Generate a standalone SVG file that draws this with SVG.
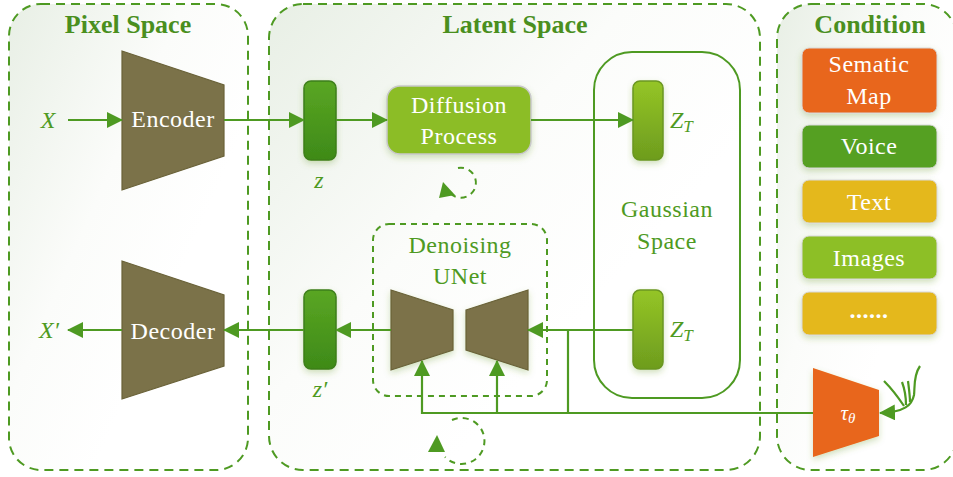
<svg xmlns="http://www.w3.org/2000/svg" width="953" height="477" viewBox="0 0 953 477">
<defs>
  <linearGradient id="panelBg" x1="0" y1="0" x2="0.7" y2="0.6">
    <stop offset="0" stop-color="#e8efe5"/>
    <stop offset="0.6" stop-color="#fbfcfa"/>
    <stop offset="1" stop-color="#ffffff"/>
  </linearGradient>
  <linearGradient id="zDark" x1="0" y1="0" x2="0" y2="1">
    <stop offset="0" stop-color="#5aa623"/>
    <stop offset="1" stop-color="#3e8a18"/>
  </linearGradient>
  <linearGradient id="zLight" x1="0" y1="0" x2="0" y2="1">
    <stop offset="0" stop-color="#95c526"/>
    <stop offset="1" stop-color="#6d9c1e"/>
  </linearGradient>
  <filter id="sh" x="-20%" y="-20%" width="140%" height="150%">
    <feDropShadow dx="0" dy="3" stdDeviation="3" flood-color="#6a9a30" flood-opacity="0.3"/>
  </filter>
  <marker id="ah" viewBox="0 0 16 16" refX="15" refY="8" markerWidth="16" markerHeight="16" markerUnits="userSpaceOnUse" orient="auto">
    <path d="M0,0 L16,8 L0,16 z" fill="#4e9a22"/>
  </marker>
  <style>
    .panel{fill:url(#panelBg);stroke:#4e9a22;stroke-width:2;stroke-dasharray:9 6}
    .title{font-family:"Liberation Serif","Times New Roman",serif;font-weight:bold;font-size:26px;fill:#4a8f1e;text-anchor:middle}
    .trap{fill:#7b7249;stroke:#6a6238;stroke-width:1.2}
    .wt{font-family:"Liberation Serif","Times New Roman",serif;font-size:24px;fill:#ffffff;text-anchor:middle;letter-spacing:0.5px}
    .gt{font-family:"Liberation Serif","Times New Roman",serif;font-size:24px;fill:#4e9a22;text-anchor:middle;letter-spacing:0.5px}
    .it{font-family:"Liberation Serif","Times New Roman",serif;font-style:italic;font-size:24px;fill:#4e9a22;text-anchor:middle}
    .ln{fill:none;stroke:#4e9a22;stroke-width:2.2}
    .dsh{fill:none;stroke:#4e9a22;stroke-width:2;stroke-dasharray:6 5}
    .cbox{stroke:#d9d9d9;stroke-width:1}
  </style>
</defs>

<g id="panel-pixel">
  <rect class="panel" x="9" y="4" width="239" height="466" rx="32"/>
  <text class="title" x="128" y="33">Pixel Space</text>
</g>
<g id="panel-latent">
  <rect class="panel" x="269" y="4" width="491" height="466" rx="34"/>
  <text class="title" x="515" y="33">Latent Space</text>
</g>
<g id="panel-condition">
  <rect class="panel" x="777" y="4" width="180" height="466" rx="34"/>
  <text class="title" x="870" y="33">Condition</text>
</g>

<g id="gaussian-space">
  <rect x="594" y="52" width="146" height="346" rx="38" fill="none" stroke="#4e9a22" stroke-width="2"/>
  <text class="gt" x="667" y="217">Gaussian</text>
  <text class="gt" x="667" y="249">Space</text>
</g>

<g id="denoising-unet">
  <rect x="373" y="224" width="174" height="172" rx="16" class="dsh"/>
  <text class="gt" x="460" y="253">Denoising</text>
  <text class="gt" x="460" y="284">UNet</text>
  <polygon class="trap" filter="url(#sh)" points="391,290 453,310 453,350 391,370"/>
  <polygon class="trap" filter="url(#sh)" points="466,310 528,290 528,370 466,350"/>
</g>

<g id="X">
  <text class="it" x="48" y="128">X</text>
</g>
<g id="X-prime">
  <text class="it" x="49" y="338">X′</text>
</g>

<g id="encoder">
  <polygon class="trap" points="122,51 224,85 224,156 122,190"/>
  <text class="wt" x="173" y="127">Encoder</text>
</g>
<g id="decoder">
  <polygon class="trap" points="122,261 224,295 224,366 122,399"/>
  <text class="wt" x="173" y="339">Decoder</text>
</g>

<g id="z">
  <rect x="304" y="81" width="32" height="79" rx="7" fill="url(#zDark)" stroke="#3d7f1a" stroke-width="1.5" filter="url(#sh)"/>
  <text class="it" x="319" y="188">z</text>
</g>
<g id="z-prime">
  <rect x="304" y="290" width="32" height="79" rx="7" fill="url(#zDark)" stroke="#3d7f1a" stroke-width="1.5" filter="url(#sh)"/>
  <text class="it" x="320" y="397">z′</text>
</g>

<g id="diffusion-process">
  <rect x="387" y="86" width="144" height="68" rx="13" fill="#8cbd26" stroke="#c9c9c9" stroke-width="1.5" filter="url(#sh)"/>
  <text class="wt" x="459" y="113">Diffusion</text>
  <text class="wt" x="459" y="144">Process</text>
</g>

<g id="zT-top">
  <rect x="633" y="81" width="30" height="79" rx="7" fill="url(#zLight)" stroke="#6a9620" stroke-width="1.5" filter="url(#sh)"/>
  <text x="670" y="128" font-family="Liberation Serif, Times New Roman, serif" font-style="italic" font-size="24" fill="#4e9a22">Z<tspan font-size="17" dy="4">T</tspan></text>
</g>
<g id="zT-bottom">
  <rect x="633" y="290" width="30" height="79" rx="7" fill="url(#zLight)" stroke="#6a9620" stroke-width="1.5" filter="url(#sh)"/>
  <text x="670" y="337" font-family="Liberation Serif, Times New Roman, serif" font-style="italic" font-size="24" fill="#4e9a22">Z<tspan font-size="17" dy="4">T</tspan></text>
</g>

<g id="cond-sematic-map">
  <rect class="cbox" x="802" y="48" width="135" height="65" rx="7" fill="#e8661a" filter="url(#sh)"/>
  <text class="wt" x="869" y="72">Sematic</text>
  <text class="wt" x="869" y="104">Map</text>
</g>
<g id="cond-voice">
  <rect class="cbox" x="802" y="125" width="135" height="43" rx="7" fill="#55a020" filter="url(#sh)"/>
  <text class="wt" x="869" y="154">Voice</text>
</g>
<g id="cond-text">
  <rect class="cbox" x="802" y="180" width="135" height="43" rx="7" fill="#e4b81f" filter="url(#sh)"/>
  <text class="wt" x="869" y="210">Text</text>
</g>
<g id="cond-images">
  <rect class="cbox" x="802" y="236" width="135" height="43" rx="7" fill="#8dbf26" filter="url(#sh)"/>
  <text class="wt" x="869" y="266">Images</text>
</g>
<g id="cond-more">
  <rect class="cbox" x="802" y="292" width="135" height="43" rx="7" fill="#e4b81f" filter="url(#sh)"/>
  <text class="wt" x="869" y="318" font-weight="bold" letter-spacing="1.5">......</text>
</g>

<g id="tau-theta">
  <polygon points="813,368 879,390 879,436 813,457" fill="#e8661a" filter="url(#sh)"/>
  <text x="848" y="420" font-family="Liberation Serif, Times New Roman, serif" font-style="italic" font-size="21" fill="#ffffff" text-anchor="middle">τ<tspan font-size="15" dy="3">θ</tspan></text>
</g>

<g id="connectors">
  <path class="ln" d="M68,120 H122" marker-end="url(#ah)"/>
  <path class="ln" d="M224,120 H304" marker-end="url(#ah)"/>
  <path class="ln" d="M336,120 H387" marker-end="url(#ah)"/>
  <path class="ln" d="M531,120 H633" marker-end="url(#ah)"/>
  <path class="ln" d="M633,330 H528" marker-end="url(#ah)"/>
  <path class="ln" d="M391,330 H336" marker-end="url(#ah)"/>
  <path class="ln" d="M304,330 H224" marker-end="url(#ah)"/>
  <path class="ln" d="M122,330 H68" marker-end="url(#ah)"/>
  <path class="ln" stroke-width="3" d="M813,413 H422 V361" marker-end="url(#ah)"/>
  <path class="ln" stroke-width="2.6" d="M497,413 V361" marker-end="url(#ah)"/>
  <path class="ln" stroke-width="2.4" d="M568,413 V330"/>
  <path class="ln" stroke-width="2.6" d="M920,366 C913,376 915,388 914,395 C912,405 905,412 880,413" marker-end="url(#ah)"/>
  <path class="ln" stroke-width="2.2" d="M884,381 C892,389 898,397 904,406"/>
  <path class="ln" stroke-width="2.2" d="M902,382 C905,390 906,398 906,405"/>
  <path class="ln" stroke-width="2.2" d="M908,381 C909,389 910,396 910,402"/>
  <path class="dsh" d="M458,168 A15,15 0 1,1 450,193"/>
  <polygon points="443,182 439,198 455,195" fill="#4e9a22"/>
  <path class="dsh" d="M452,420 A23,23 0 1,1 445,457"/>
  <polygon points="437,435 428,452 445,452" fill="#4e9a22"/>
</g>
</svg>
